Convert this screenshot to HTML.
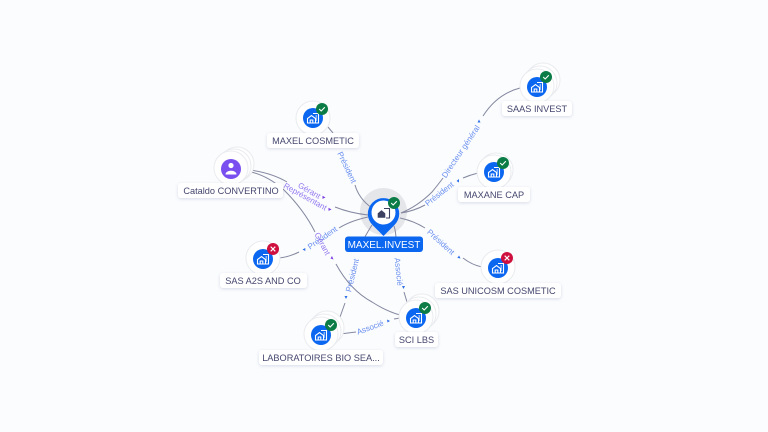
<!DOCTYPE html>
<html lang="fr"><head><meta charset="utf-8"><title>MAXEL.INVEST</title>
<style>
html,body{margin:0;padding:0;background:#fafcfe}
svg{display:block}
text{font-family:"Liberation Sans",sans-serif}
.e{fill:none;stroke:#85889f;stroke-width:1}
.l{font-size:8px;fill:#6a8fee;text-anchor:middle}
.p{font-size:8px;fill:#9478ee;text-anchor:middle}
.n{font-size:9.2px;fill:#45476f;text-anchor:middle}
.r{fill:#fff;filter:url(#s)}
.c{fill:#fff;stroke:#e9ebef;stroke-width:1}
.t{fill:none;stroke:#fff;stroke-width:1.1}
.k{fill:none;stroke:#fff;stroke-width:1.1}
</style></head><body>
<svg width="768" height="432" viewBox="0 0 768 432" xmlns="http://www.w3.org/2000/svg">
<defs>
<filter id="s" x="-20%" y="-40%" width="140%" height="200%"><feDropShadow dx="0" dy="1" stdDeviation="1.6" flood-color="#8790b0" flood-opacity=".3"/></filter>
<g id="b"><path class="t" d="M-5.500 5v-4.500l4-3 4 3v4.500zM-2.800 5v-3h2.600v3M0-4.500h5.500v9.500H3M2.500-2h1.500M2.500 0h1.500M2.500 2h1.500"/></g>
<g id="ok"><circle r="6" fill="#0c7c46"/><path class="k" d="M-2.800 0l2 2 3.600-3.800"/></g>
<g id="no"><circle r="6" fill="#cf0f3e"/><path class="k" d="M-2.300-2.300l4.600 4.600M2.300-2.300l-4.600 4.600"/></g>
</defs>
<rect width="768" height="432" fill="#fafcfe"/>

<circle cx="383.500" cy="211.500" r="23.500" fill="#e5e6ea"/>

<!-- edges -->
<path class="e" d="M328 127L333 133"/>
<path class="e" d="M355 185Q359 199 372 208"/>
<path class="e" d="M250 170Q272 173 287 182"/>
<path class="e" d="M335 207Q350 213 368 215"/>
<path class="e" d="M251 172Q268 176 284 190Q304 210 315 232"/>
<path class="e" d="M336 264Q350 290 372 302Q386 311 400 315"/>
<path class="e" d="M279 258Q289 257 299 252"/>
<path class="e" d="M339 228Q350 221 368 217"/>
<path class="e" d="M372 225Q365 236 358 250"/>
<path class="e" d="M345 303L340 317"/>
<path class="e" d="M394 226Q396 232 396 240"/>
<path class="e" d="M404 292L407 302"/>
<path class="e" d="M340 334L356 332"/>
<path class="e" d="M394 319L400 318"/>
<path class="e" d="M401 213Q418 206 432 192Q437 186 443 178"/>
<path class="e" d="M483 116Q497 94 520 88"/>
<path class="e" d="M401 213Q414 211 425 205"/>
<path class="e" d="M463 178Q470 175 478 173"/>
<path class="e" d="M400 218Q414 221 425 228"/>
<path class="e" d="M463 258Q472 265 482 267"/>

<!-- arrowheads -->
<g fill="#2f6fe8">
<path d="M479 119.500l-1.500 3h3z"/>
<path d="M456.500 181l2.500-2v3.500z"/>
<path d="M460.500 258.500l-3.200-.6 1.800-2.400z"/>
<path d="M302.500 249.500l2.800-1.500v3z"/>
<path d="M346 299l-1.500-3h3z"/>
<path d="M403.500 289l-1.500-3h3z"/>
<path d="M390 321l-3-1.500.5 3z"/>
</g>
<g fill="#7c3fe0">
<path d="M325.500 197.500l-3-1.800v3.200z"/>
<path d="M331.500 209.500l-3-1.800v3.200z"/>
<path d="M333.500 259.500l-3-1 1.500-2.500z"/>
</g>

<!-- edge labels -->
<text class="l" transform="translate(344.500 168.500) rotate(64)">Président</text>
<text class="p" transform="translate(308 193) rotate(30)">Gérant</text>
<text class="p" transform="translate(304 199) rotate(29)">Représentant</text>
<text class="l" transform="translate(324 240) rotate(-35)">Président</text>
<text class="p" transform="translate(320 245) rotate(62)">Gérant</text>
<text class="l" transform="translate(355 276) rotate(-76)">Président</text>
<text class="l" transform="translate(396 272) rotate(84)">Associé</text>
<text class="l" transform="translate(371 330) rotate(-20)">Associé</text>
<text class="l" transform="translate(463 153) rotate(-56)">Directeur général</text>
<text class="l" transform="translate(441 196) rotate(-38)">Président</text>
<text class="l" transform="translate(439 244) rotate(42)">Président</text>

<!-- main node -->
<path d="M383.500 236L372.500 225A15.700 15.700 0 1 1 394.500 225Z" fill="#0b66f0"/>
<circle cx="383.500" cy="212.500" r="12" fill="#fff"/>
<g transform="translate(384 213)"><path d="M-6 4.500v-4l3.500-3 3.500 3v4zM-3.500 4.500v-2.500h2v2" fill="#3d4160" stroke="#3d4160" stroke-width=".6"/><path d="M0-4.500h5.500v9.500H2" fill="none" stroke="#3d4160" stroke-width="1.100"/></g>
<use href="#ok" x="394" y="203"/>
<rect x="345" y="236.500" width="78" height="15.500" rx="3" fill="#0b66f0"/>
<text x="384" y="248" font-size="10" fill="#fff" text-anchor="middle">MAXEL.INVEST</text>

<!-- MAXEL COSMETIC -->
<circle class="c" cx="313" cy="118" r="17"/><circle cx="313" cy="118" r="10" fill="#0b66f0"/><use href="#b" x="313" y="118"/><use href="#ok" x="322" y="109"/>
<rect class="r" x="267" y="133" width="92" height="15" rx="3"/><text class="n" x="313" y="144">MAXEL COSMETIC</text>

<!-- Cataldo -->
<circle class="c" cx="237" cy="164" r="17"/><circle class="c" cx="234" cy="166" r="17"/><circle class="c" cx="231" cy="168" r="17"/>
<circle cx="231" cy="169" r="10" fill="#7a4ff0"/>
<circle cx="231" cy="165.500" r="2.600" fill="#fff"/><path d="M225.500 174.500c0-5 11-5 11 0z" fill="#fff"/>
<rect class="r" x="178" y="183" width="105" height="15" rx="3"/><text class="n" x="231" y="194">Cataldo CONVERTINO</text>

<!-- SAAS INVEST -->
<circle class="c" cx="543" cy="80" r="17"/><circle class="c" cx="540" cy="83" r="17"/><circle class="c" cx="537" cy="86" r="17"/>
<circle cx="537" cy="87" r="10" fill="#0b66f0"/><use href="#b" x="537" y="87"/><use href="#ok" x="546" y="77"/>
<rect class="r" x="502" y="101" width="70" height="15" rx="3"/><text class="n" x="537" y="112">SAAS INVEST</text>

<!-- MAXANE CAP -->
<circle class="c" cx="496" cy="170" r="17"/><circle class="c" cx="494" cy="172" r="17"/>
<circle cx="494" cy="172" r="10" fill="#0b66f0"/><use href="#b" x="494" y="172"/><use href="#ok" x="503" y="163"/>
<rect class="r" x="458" y="187" width="72" height="15" rx="3"/><text class="n" x="494" y="198">MAXANE CAP</text>

<!-- SAS A2S -->
<circle class="c" cx="263" cy="258" r="17"/><circle cx="263" cy="259" r="10" fill="#0b66f0"/><use href="#b" x="263" y="259"/><use href="#no" x="273" y="249"/>
<rect class="r" x="220" y="273" width="87" height="15" rx="3"/><text class="n" x="263" y="284">SAS A2S AND CO</text>

<!-- SAS UNICOSM -->
<circle class="c" cx="498" cy="267" r="17"/><circle cx="498" cy="268" r="10" fill="#0b66f0"/><use href="#b" x="498" y="268"/><use href="#no" x="507" y="258"/>
<rect class="r" x="435" y="283" width="126" height="15" rx="3"/><text class="n" x="498" y="294">SAS UNICOSM COSMETIC</text>

<!-- SCI LBS -->
<circle class="c" cx="422" cy="311" r="17"/><circle class="c" cx="419" cy="314" r="17"/><circle class="c" cx="416" cy="317" r="17"/>
<circle cx="416" cy="318" r="10" fill="#0b66f0"/><use href="#b" x="416" y="318"/><use href="#ok" x="425" y="308"/>
<rect class="r" x="395" y="332" width="43" height="15" rx="3"/><text class="n" x="416.500" y="343">SCI LBS</text>

<!-- LABORATOIRES -->
<circle class="c" cx="327" cy="328" r="17"/><circle class="c" cx="324" cy="331" r="17"/><circle class="c" cx="321" cy="334" r="17"/>
<circle cx="321" cy="335" r="10" fill="#0b66f0"/><use href="#b" x="321" y="335"/><use href="#ok" x="331" y="325"/>
<rect class="r" x="259" y="350" width="124" height="15" rx="3"/><text class="n" x="321" y="361">LABORATOIRES BIO SEA...</text>
</svg>
</body></html>
